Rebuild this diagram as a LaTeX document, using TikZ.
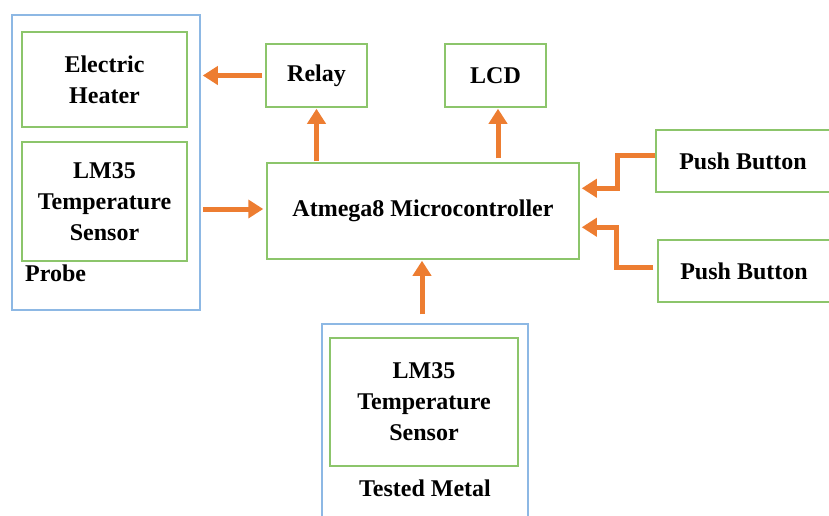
\documentclass[tikz,border=0pt]{standalone}
\usepackage{fontspec}
\setmainfont{Liberation Serif}
\usetikzlibrary{arrows.meta}
\definecolor{orangeA}{HTML}{ED7D31}
\definecolor{greenA}{HTML}{8CC56B}
\definecolor{blueA}{HTML}{8DB8E4}
\tikzset{
  blk/.style={draw=greenA, line width=1.5pt, rectangle, inner sep=0pt, align=center,
    font=\fontsize{24}{31}\selectfont\bfseries},
  grp/.style={draw=blueA, line width=1.5pt, rectangle, inner sep=0pt},
  lbl/.style={inner sep=0pt, font=\fontsize{24}{31}\selectfont\bfseries},
  arr/.style={draw=orangeA, line width=5pt, -{Triangle[length=15pt,width=18pt]}}
}
\begin{document}
\begin{tikzpicture}[x=1pt,y=-1pt]
\useasboundingbox (0,0) rectangle (829,515);
\clip (0,0) rectangle (829,515);
% groups
\node[grp, minimum width=188pt, minimum height=295pt] (probe) at (106,162.5) {};
\node[grp, minimum width=206pt, minimum height=210pt] (tm) at (425,429) {};
% blocks
\node[blk, minimum width=165pt, minimum height=95pt] (heater) at (104.5,79.5) {Electric\\Heater};
\node[blk, minimum width=165pt, minimum height=119pt] (lm1) at (104.5,201.5) {LM35\\Temperature\\Sensor};
\node[lbl, anchor=west] (probelbl) at (25,273) {Probe};
\node[blk, minimum width=101pt, minimum height=63pt] (relay) at (316.5,75.5) {Relay};
\node[blk, minimum width=101pt, minimum height=63pt] (lcd) at (495.5,75.5) {LCD};
\node[blk, minimum width=312pt, minimum height=96pt] (mcu) at (423,211) {Atmega8 Microcontroller};
\node[blk, minimum width=174pt, minimum height=62pt] (pb1) at (743,161) {Push Button};
\node[blk, minimum width=172pt, minimum height=62pt] (pb2) at (744,271) {Push Button};
\node[blk, minimum width=188pt, minimum height=128pt] (lm2) at (424,402) {LM35\\Temperature\\Sensor};
\node[lbl] (tmlbl) at (425,488) {Tested Metal};
% connectors
\draw[arr, shorten <=3pt, shorten >=2pt] (relay.west) -- (probe.east |- relay.west);
\draw[arr, shorten <=1pt, shorten >=1pt] (mcu.north -| relay.south) -- (relay.south);
\draw[arr, shorten <=4pt, shorten >=1pt] ([xshift=2.5pt]mcu.north -| lcd.south) -- ([xshift=2.5pt]lcd.south);
\draw[arr, shorten <=2pt, shorten >=3pt] ([yshift=2pt]probe.east |- mcu.west) -- ([yshift=2pt]mcu.west);
\draw[arr, shorten >=2pt] ([yshift=6pt]pb1.west) -- ++(-38,0) |- ([yshift=-26pt]mcu.north east);
\draw[arr, shorten >=2pt] ([yshift=4pt,xshift=-4pt]pb2.west) -- ++(-37,0) |- ([yshift=-65pt]mcu.north east);
\draw[arr, shorten <=9pt, shorten >=1pt] ([xshift=-3pt]tm.north) -- ([xshift=-1pt]mcu.south);
\end{tikzpicture}
\end{document}
